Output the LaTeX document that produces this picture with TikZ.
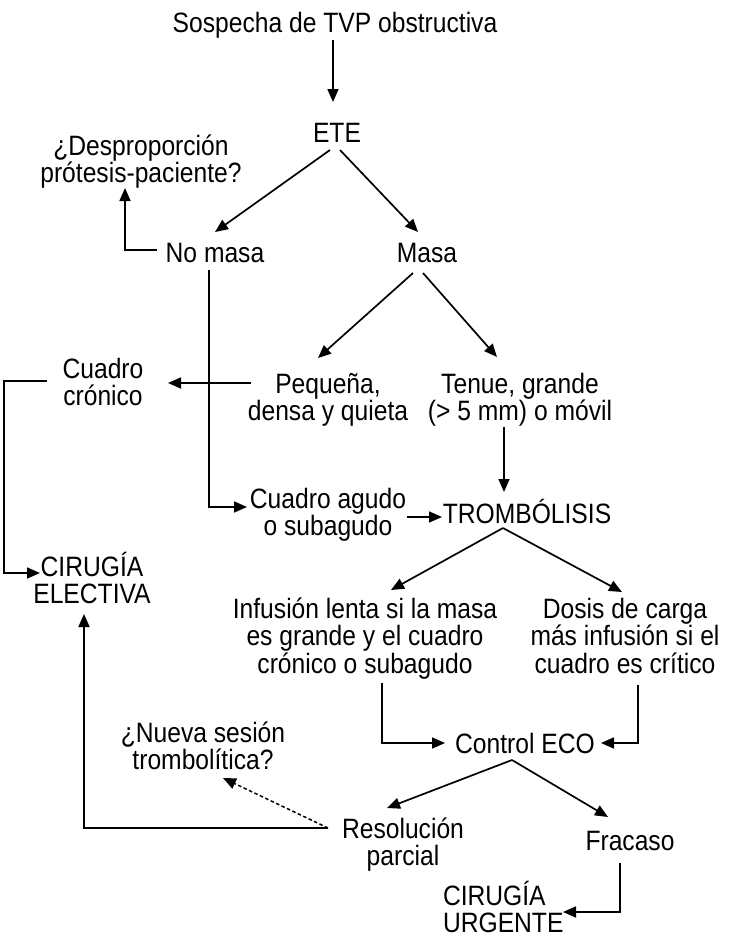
\documentclass[tikz,border=0pt]{standalone}
\usepackage{fontspec}
\setmainfont{Liberation Sans}[FakeStretch=0.88]
\usetikzlibrary{arrows.meta}
\newcommand{\tp}{\rule{0pt}{24pt}}
\begin{document}
\begin{tikzpicture}[x=1pt,y=-1pt,
  lbl/.style={inner sep=0pt, outer sep=0pt, align=center, anchor=north,
    font=\fontsize{28pt}{27.5pt}\selectfont},
  arr/.style={line width=1.7pt, -{Triangle[length=13pt,width=11pt]}},
  dotarr/.style={arr, line width=1.5pt, dash pattern=on 3.5pt off 2.5pt}]
\useasboundingbox (0,0) rectangle (730,946);
\fill[white] (0,0) rectangle (730,946);

\node[lbl] (sosp) at (335,8) {\tp Sospecha de TVP obstructiva};
\node[lbl] (ete) at (337,118) {\tp ETE};
\node[lbl] (desp) at (141,131) {\tp ¿Desproporción\\prótesis-paciente?};
\node[lbl] (nomasa) at (215,238) {\tp No masa};
\node[lbl] (masa) at (427,238) {\tp Masa};
\node[lbl] (cronico) at (103,354) {\tp Cuadro\\crónico};
\node[lbl] (pequena) at (328,369) {\tp Pequeña,\\densa y quieta};
\node[lbl] (tenue) at (520,369) {\tp Tenue, grande\\(>~5 mm) o móvil};
\node[lbl] (agudo) at (328,484) {\tp Cuadro agudo\\o subagudo};
\node[lbl] (trom) at (527,499) {\tp TROMBÓLISIS};
\node[lbl] (cirel) at (92,552) {\tp CIRUGÍA\\ELECTIVA};
\node[lbl] (infus) at (365,594) {\tp Infusión lenta si la masa\\es grande y el cuadro\\crónico o subagudo};
\node[lbl] (dosis) at (625,594) {\tp Dosis de carga\\más infusión si el\\cuadro es crítico};
\node[lbl] (control) at (525,729) {\tp Control ECO};
\node[lbl] (nueva) at (203,718) {\tp ¿Nueva sesión\\trombolítica?};
\node[lbl] (resol) at (403,814) {\tp Resolución\\parcial};
\node[lbl] (fracaso) at (630,826) {\tp Fracaso};
\node[lbl, align=left, anchor=north west] (cirurg) at (443,881) {\tp CIRUGÍA\\URGENTE};

% connectors
\draw[arr] ([shift={(-2,32)}]sosp.north) -- ([shift={(-4,-16)}]ete.north);
\draw[arr] ([shift={(-7,32)}]ete.north) -- ([shift={(0,-6)}]nomasa.north);
\draw[arr] ([shift={(3,32)}]ete.north) -- ([shift={(-9,-6)}]masa.north);
\draw[arr] ([shift={(-58,12)}]nomasa.north) -| ([shift={(-16,57)}]desp.north);
\draw[arr] ([shift={(-6,32)}]nomasa.north) |- ([shift={(-81,23)}]agudo.north);
\draw[arr] ([shift={(-14,35)}]masa.north) -- ([shift={(-10,-11)}]pequena.north);
\draw[arr] ([shift={(-4,35)}]masa.north) -- ([shift={(-23,-12)}]tenue.north);
\draw[arr] ([shift={(-77,14)}]pequena.north) -- ([shift={(65,29)}]cronico.north);
\draw[arr] ([shift={(-56,27)}]cronico.north) -- ++(-43,0) |- ([shift={(-52,21)}]cirel.north);
\draw[arr] ([shift={(-16,58)}]tenue.north) -- ([shift={(-23,-7)}]trom.north);
\draw[arr] ([shift={(79,33)}]agudo.north) -- ([shift={(-85,18)}]trom.north);
\draw[arr] ([shift={(-24,29)}]trom.north) -- ([shift={(26,-4)}]infus.north);
\draw[arr] ([shift={(-24,29)}]trom.north) -- ([shift={(-3,-2)}]dosis.north);
\draw[arr] ([shift={(17,89)}]infus.north) |- ([shift={(-80,14)}]control.north);
\draw[arr] ([shift={(13,91)}]dosis.north) |- ([shift={(76,14)}]control.north);
\draw[arr] ([shift={(-13,31)}]control.north) -- ([shift={(-16,-6)}]resol.north);
\draw[arr] ([shift={(-13,31)}]control.north) -- ([shift={(-22,-9)}]fracaso.north);
\draw[dotarr] ([shift={(-75,14)}]resol.north) -- ([shift={(20,60)}]nueva.north);
\draw[arr] ([shift={(-75,14)}]resol.north) -| ([shift={(-8,62)}]cirel.north);
\draw[arr] ([shift={(-10,37)}]fracaso.north) |- ([shift={(120,31)}]cirurg.north west);
\end{tikzpicture}
\end{document}
